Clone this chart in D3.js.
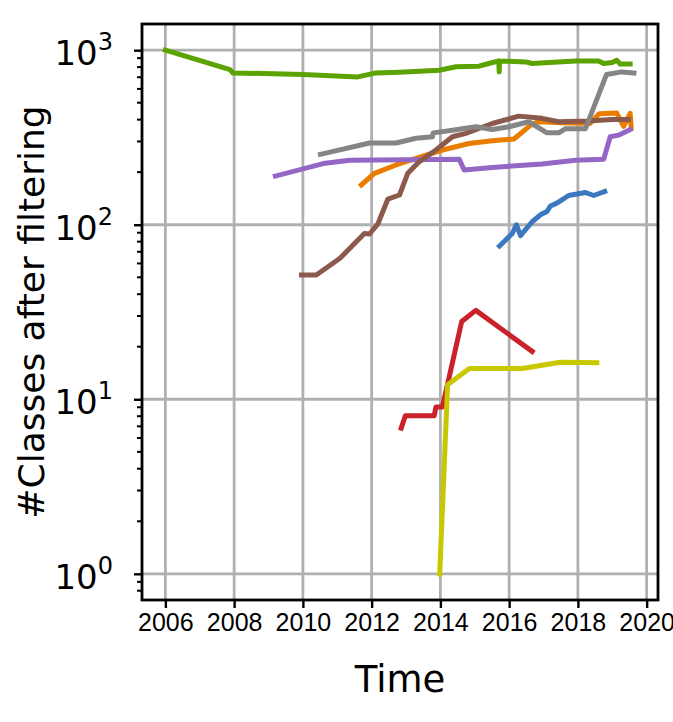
<!DOCTYPE html>
<html>
<head>
<meta charset="utf-8">
<script src="https://cdn.jsdelivr.net/npm/d3@7"></script>
<style>
  body { margin: 0; background: #fff; }
  svg { display: block; font-family: "DejaVu Sans", sans-serif; }
</style>
</head>
<body>
<svg id="chart"></svg>
<script>
// years (decimal) and counts, one pair of arrays per project
const blueYears = [2015.72, 2016.09, 2016.21, 2016.33, 2016.67, 2016.91, 2017.1, 2017.2, 2017.39, 2017.73, 2018.22, 2018.46, 2018.78];
const blueValues = [75.5, 89, 100, 86.5, 104, 114, 119, 128, 133, 147, 153, 147, 155];

const orangeYears = [2011.7, 2012.08, 2012.71, 2013.29, 2014.06, 2014.83, 2015.51, 2016.14, 2016.67, 2016.86, 2017.54, 2018.35, 2018.62, 2019.13, 2019.33, 2019.52, 2019.55];
const orangeValues = [169, 197, 220, 240, 268, 292, 303, 310, 378, 389, 384, 380, 433, 436, 366, 435, 360];

const greenYears = [2006.0, 2007.88, 2007.96, 2010.0, 2011.6, 2012.13, 2012.8, 2013.97, 2014.45, 2015.12, 2015.41, 2015.7, 2015.71, 2015.72, 2016.48, 2016.67, 2017.93, 2018.6, 2018.75, 2019.0, 2019.13, 2019.23, 2019.52];
const greenValues = [1000, 774, 741, 726, 703, 741, 748, 768, 803, 810, 839, 868, 750, 868, 857, 839, 868, 868, 839, 850, 876, 832, 832];

const redYears = [2012.86, 2012.98, 2013.82, 2013.87, 2014.06, 2014.62, 2015.03, 2016.67];
const redValues = [6.84, 8.05, 8.05, 9.04, 9.04, 27.9, 32.3, 18.8];

const purpleYears = [2009.2, 2010.59, 2011.36, 2014.55, 2014.69, 2015.51, 2016.96, 2017.93, 2018.75, 2018.94, 2019.18, 2019.52];
const purpleValues = [190, 224, 234, 237, 206, 213, 223, 234, 237, 319, 326, 351];

const brownYears = [2009.96, 2010.39, 2011.07, 2011.36, 2011.79, 2011.94, 2012.18, 2012.47, 2012.81, 2013.05, 2013.39, 2013.87, 2014.35, 2014.74, 2015.51, 2016.28, 2016.96, 2017.44, 2018.31, 2018.99, 2019.47];
const brownValues = [51.5, 51.5, 64, 73, 89, 88.5, 101, 140, 148, 197, 230, 268, 319, 334, 380, 419, 407, 389, 393, 401, 401];

const grayYears = [2010.51, 2011.94, 2012.71, 2013.29, 2013.77, 2013.79, 2014.35, 2015.03, 2015.51, 2016.0, 2016.57, 2017.1, 2017.44, 2017.64, 2018.22, 2018.83, 2019.28, 2019.63];
const grayValues = [253, 294, 294, 313, 319, 336, 348, 364, 351, 364, 389, 336, 336, 355, 355, 725, 751, 740];

const oliveYears = [2013.98, 2014.21, 2014.84, 2016.38, 2017.49, 2018.55];
const oliveValues = [1, 12.1, 15.0, 15.0, 16.3, 16.2];

const seriesNames = ["blue", "orange", "green", "red", "purple", "brown", "gray", "olive"];
const seriesColors = ["#3b78bf", "#ea7d00", "#5aa300", "#c9222b", "#9467c6", "#8b5a4c", "#858585", "#c8c800"];
const allYears = [blueYears, orangeYears, greenYears, redYears, purpleYears, brownYears, grayYears, oliveYears];
const allValues = [blueValues, orangeValues, greenValues, redValues, purpleValues, brownValues, grayValues, oliveValues];

const xTicks = [2006, 2008, 2010, 2012, 2014, 2016, 2018, 2020];
const yTicks = [1, 10, 100, 1000];
const yExponents = ["0", "1", "2", "3"];

const width = 673, height = 722;
const margin = { top: 24, right: 15, bottom: 122, left: 142 };

const svg = d3.select('#chart').attr('width', width).attr('height', height);

const x = d3.scaleLinear()
  .domain([2005.32, 2020.33])
  .range([margin.left, width - margin.right]);

const y = d3.scaleLog()
  .domain([Math.pow(10, -0.15), Math.pow(10, 3.15)])
  .range([height - margin.bottom, margin.top]);

// grid
const grid = svg.append('g').attr('stroke', '#b0b0b0').attr('stroke-width', 2.8);
grid.selectAll('.gx').data(xTicks).enter().append('line')
  .attr('x1', d => x(d)).attr('x2', d => x(d))
  .attr('y1', margin.top).attr('y2', height - margin.bottom);
grid.selectAll('.gy').data(yTicks).enter().append('line')
  .attr('x1', margin.left).attr('x2', width - margin.right)
  .attr('y1', d => y(d)).attr('y2', d => y(d));

// lines
const line = d3.line().x(d => x(d[0])).y(d => y(d[1]));
seriesNames.forEach((name, i) => {
  const pts = allYears[i].map((yr, j) => [yr, allValues[i][j]]);
  svg.append('path')
    .datum(pts)
    .attr('class', 'series-' + name)
    .attr('fill', 'none')
    .attr('stroke', seriesColors[i])
    .attr('stroke-width', 5)
    .attr('stroke-linejoin', 'round')
    .attr('stroke-linecap', 'square')
    .attr('d', line);
});

// axes
const xAxis = svg.append('g')
  .attr('transform', `translate(0, ${height - margin.bottom})`)
  .call(d3.axisBottom(x).tickValues(xTicks).tickFormat(d3.format('d')).tickSize(8).tickPadding(5));
xAxis.select('.domain').remove();
xAxis.selectAll('line').attr('stroke', '#000').attr('stroke-width', 2.4);
xAxis.selectAll('text').attr('font-size', 25).attr('fill', '#000');

const minorTicks = [];
for (let e = 0; e < 4; e++) {
  for (let m = 2; m <= 9; m++) {
    const v = m * Math.pow(10, e - 1);
    if (v >= y.domain()[0] && v <= y.domain()[1]) minorTicks.push(v);
  }
}
svg.append('g').selectAll('line').data(minorTicks).enter().append('line')
  .attr('x1', margin.left - 5).attr('x2', margin.left)
  .attr('y1', d => y(d)).attr('y2', d => y(d))
  .attr('stroke', '#000').attr('stroke-width', 2);

const yAxis = svg.append('g')
  .attr('transform', `translate(${margin.left}, 0)`)
  .call(d3.axisLeft(y).tickValues(yTicks).tickFormat('').tickSize(8));
yAxis.select('.domain').remove();
yAxis.selectAll('line').attr('stroke', '#000').attr('stroke-width', 2.4);

const yLabels = svg.append('g');
yTicks.forEach((v, i) => {
  const t = yLabels.append('text')
    .attr('x', margin.left - 29)
    .attr('y', y(v) + 15)
    .attr('text-anchor', 'end')
    .attr('font-size', 34)
    .attr('fill', '#000');
  t.append('tspan').text('10');
  t.append('tspan').attr('dy', -15).attr('font-size', 24).text(yExponents[i]);
});

// frame
svg.append('rect')
  .attr('x', margin.left).attr('y', margin.top)
  .attr('width', width - margin.left - margin.right)
  .attr('height', height - margin.top - margin.bottom)
  .attr('fill', 'none').attr('stroke', '#000').attr('stroke-width', 2.8);

// axis titles
svg.append('text')
  .attr('x', (margin.left + width - margin.right) / 2)
  .attr('y', 692)
  .attr('text-anchor', 'middle')
  .attr('font-size', 37)
  .text('Time');

svg.append('text')
  .attr('transform', `translate(44, ${(margin.top + height - margin.bottom) / 2}) rotate(-90)`)
  .attr('text-anchor', 'middle')
  .attr('font-size', 36)
  .text('#Classes after filtering');
</script>
</body>
</html>
